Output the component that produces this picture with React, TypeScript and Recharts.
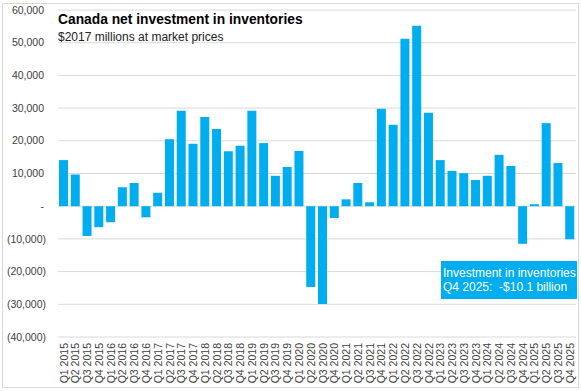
import React from "react";
import { BarChart, Bar, XAxis, YAxis, CartesianGrid } from "recharts";

const quarters = [
  "Q1 2015","Q2 2015","Q3 2015","Q4 2015",
  "Q1 2016","Q2 2016","Q3 2016","Q4 2016",
  "Q1 2017","Q2 2017","Q3 2017","Q4 2017",
  "Q1 2018","Q2 2018","Q3 2018","Q4 2018",
  "Q1 2019","Q2 2019","Q3 2019","Q4 2019",
  "Q1 2020","Q2 2020","Q3 2020","Q4 2020",
  "Q1 2021","Q2 2021","Q3 2021","Q4 2021",
  "Q1 2022","Q2 2022","Q3 2022","Q4 2022",
  "Q1 2023","Q2 2023","Q3 2023","Q4 2023",
  "Q1 2024","Q2 2024","Q3 2024","Q4 2024",
  "Q1 2025","Q2 2025","Q3 2025","Q4 2025",
];

const investment = [
  14100, 9700, -9100, -6400,
  -4900, 5800, 7100, -3400,
  4100, 20500, 29200, 19100,
  27300, 23600, 16800, 18500,
  29200, 19300, 9300, 12000,
  16900, -24700, -29900, -3600,
  2100, 7100, 1200, 29800,
  24900, 51200, 55200, 28600,
  14100, 10800, 10100, 8000,
  9300, 15700, 12300, -11500,
  600, 25400, 13200, -10100,
];

const yTicks = [-40000, -30000, -20000, -10000, 0, 10000, 20000, 30000, 40000, 50000, 60000];

const title = "Canada net investment in inventories";
const subtitle = "$2017 millions at market prices";
const noteLines = ["Investment in inventories", "Q4 2025:  -$10.1 billion"];

const data = quarters.map((q, i) => ({ q, v: investment[i] }));

const BLUE = "#00AEEF";
const FONT = "'Liberation Sans', Arial, sans-serif";

const fmt = (v: number) => {
  if (v === 0) return "-";
  const s = Math.abs(v).toLocaleString("en-US");
  return v < 0 ? `(${s})` : s;
};

const YTick = (props: any) => {
  const { x, y, payload } = props;
  const v = payload.value as number;
  const dx = v < 0 ? 0 : -2;
  return (
    <text x={x + dx} y={y} dy="0.35em" textAnchor="end" fontSize={10.5} fill="#404040" fontFamily={FONT}>
      {fmt(v)}
    </text>
  );
};

const XTick = (props: any) => {
  const { x, y, payload } = props;
  const yy = y + 6;
  return (
    <text
      x={x}
      y={yy}
      dy="0.35em"
      textAnchor="end"
      fontSize={10.5}
      fill="#404040"
      fontFamily={FONT}
      transform={`rotate(-90, ${x}, ${yy})`}
    >
      {payload.value}
    </text>
  );
};

export default function App() {
  return (
    <div style={{ position: "absolute", left: 0, top: 0, width: 581, height: 391, background: "#fff" }}>
      <div
        style={{
          position: "absolute",
          left: 2,
          top: 3,
          width: 575,
          height: 383,
          border: "1px solid #d9d9d9",
        }}
      />
      <BarChart
        width={581}
        height={391}
        data={data}
        margin={{ top: 10, right: 5, left: 0, bottom: 0 }}
      >
        <CartesianGrid vertical={false} stroke="#d9d9d9" />
        <XAxis
          dataKey="q"
          interval={0}
          height={54}
          axisLine={false}
          tickLine={false}
          tickSize={0}
          tickMargin={0}
          tick={<XTick />}
        />
        <YAxis
          width={58}
          domain={[-40000, 60000]}
          ticks={yTicks}
          axisLine={false}
          tickLine={false}
          tickSize={0}
          tickMargin={12}
          tick={<YTick />}
        />
        <Bar dataKey="v" fill={BLUE} barSize={9} isAnimationActive={false} />
      </BarChart>
      <div
        style={{
          position: "absolute",
          left: 58,
          top: 10.5,
          fontFamily: FONT,
          fontWeight: 700,
          fontSize: 13.8,
          color: "#000",
          whiteSpace: "nowrap",
          lineHeight: "18px",
        }}
      >
        {title}
      </div>
      <div
        style={{
          position: "absolute",
          left: 58,
          top: 28.8,
          fontFamily: FONT,
          fontSize: 12,
          color: "#222",
          whiteSpace: "nowrap",
          lineHeight: "16px",
        }}
      >
        {subtitle}
      </div>
      <div
        style={{
          position: "absolute",
          left: 441,
          top: 261,
          width: 136,
          height: 38,
          background: BLUE,
          color: "#fff",
          fontFamily: FONT,
          fontSize: 12,
          lineHeight: "14px",
          padding: "4.5px 0 0 2px",
          boxSizing: "border-box",
          whiteSpace: "pre",
        }}
      >
        <div>{noteLines[0]}</div>
        <div>{noteLines[1]}</div>
      </div>
    </div>
  );
}
